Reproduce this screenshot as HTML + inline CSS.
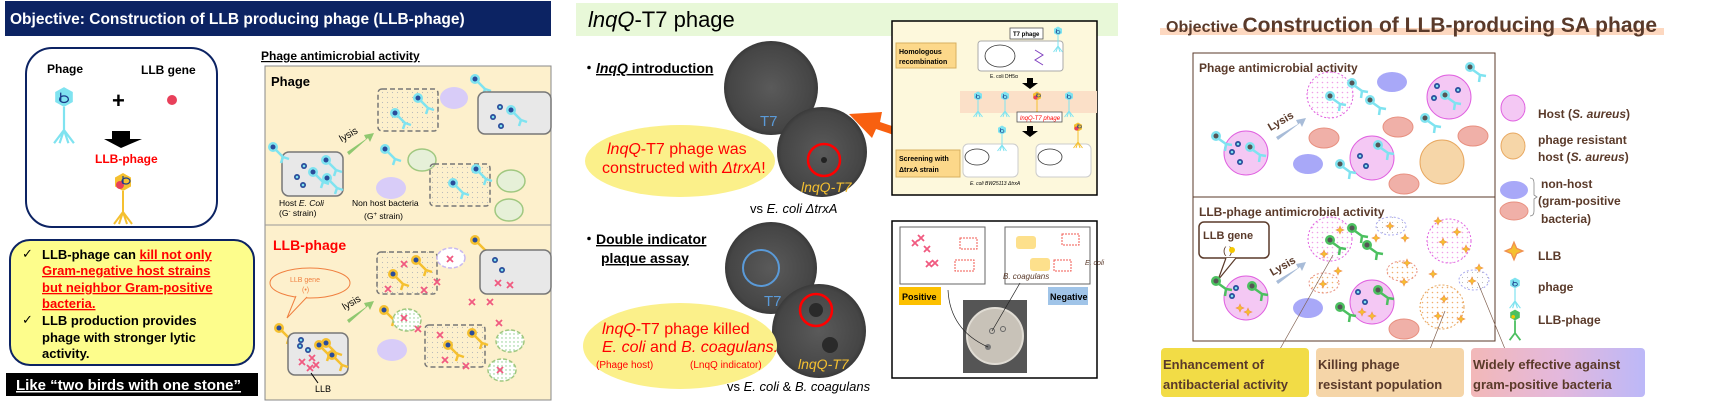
<!DOCTYPE html>
<html><head><meta charset="utf-8"><style>
body{margin:0;width:1734px;height:404px;overflow:hidden;background:#fff}
svg text{font-family:"Liberation Sans","DejaVu Sans",sans-serif}
</style></head><body>
<svg width="1734" height="404" viewBox="0 0 1734 404" xmlns="http://www.w3.org/2000/svg">
<defs>
<g id="phC"><polygon points="0,-9 8,-4.5 8,4.5 0,9 -8,4.5 -8,-4.5" fill="#7fe3f0"/><path d="M0,9 V30 M0,30 L-9,42 M0,30 L9,42 M0,30 L-4,42 M0,30 L4,42" stroke="#7fe3f0" stroke-width="2" fill="none"/><path d="M-4,2 a4,3 0 1 0 8,0 a4,3 0 1 0 -8,0 M-3,-4 v8" stroke="#1a3c8a" stroke-width="1.2" fill="none"/></g>
<g id="phY"><polygon points="0,-9 8,-4.5 8,4.5 0,9 -8,4.5 -8,-4.5" fill="#f5c030"/><circle cx="-3" cy="3" r="4" fill="#e8405a"/><path d="M0,9 V30 M0,30 L-9,42 M0,30 L9,42 M0,30 L-4,42 M0,30 L4,42" stroke="#f5c030" stroke-width="2" fill="none"/><path d="M-1,-1 a4,3 0 1 0 8,0 a4,3 0 1 0 -8,0 M0,-6 v8" stroke="#1a3c8a" stroke-width="1.2" fill="none"/></g>
<g id="sm"><circle r="3" fill="#2a4c9a"/><circle r="1.3" fill="#7fe3f0"/></g>
<g id="mc"><circle r="5" fill="#7fe3f0"/><circle r="2.5" fill="#2a4c9a"/><path d="M3,3 L10,10 M10,10 L8,16 M10,10 L16,12" stroke="#7fe3f0" stroke-width="2.5" fill="none"/></g>
<g id="my"><circle r="5" fill="#f5c030"/><circle r="2.5" fill="#2a4c9a"/><path d="M3,3 L10,10 M10,10 L8,16 M10,10 L16,12" stroke="#f5c030" stroke-width="2.5" fill="none"/></g>
<g id="x"><path d="M-3,-3 L3,3 M3,-3 L-3,3" stroke="#f05a80" stroke-width="1.8"/></g>
<g id="sc"><circle r="5" fill="#7fe3f0"/><circle r="2.5" fill="#555"/><path d="M3,3 L10,8 M10,8 L9,15 M10,8 L16,9" stroke="#7fe3f0" stroke-width="2.5" fill="none"/></g>
<g id="sg"><circle r="5" fill="#4cc060"/><circle r="2.5" fill="#555"/><path d="M3,3 L10,8 M10,8 L9,15 M10,8 L16,9" stroke="#4cc060" stroke-width="2.5" fill="none"/></g>
<g id="st"><path d="M0,-4 L1.2,-1.2 L4,0 L1.2,1.2 L0,4 L-1.2,1.2 L-4,0 L-1.2,-1.2Z" fill="#f5c030" stroke="#f09050" stroke-width=".6"/></g>
<pattern id="dots" width="5" height="5" patternUnits="userSpaceOnUse"><circle cx="2.5" cy="2.5" r=".6" fill="#bbb"/></pattern>
<pattern id="pd" width="5" height="5" patternUnits="userSpaceOnUse"><rect width="5" height="5" fill="#fff"/><circle cx="2.5" cy="2.5" r=".8" fill="#f0a0e8"/></pattern>
<pattern id="od" width="5" height="5" patternUnits="userSpaceOnUse"><rect width="5" height="5" fill="#fff"/><circle cx="2.5" cy="2.5" r=".8" fill="#f0b070"/></pattern>
<pattern id="gd" width="4" height="4" patternUnits="userSpaceOnUse"><rect width="4" height="4" fill="#fff"/><circle cx="2" cy="2" r=".7" fill="#8c8"/></pattern>
<linearGradient id="grd" x1="0" x2="1"><stop offset="0" stop-color="#f2b8b8"/><stop offset="0.5" stop-color="#e4b8dc"/><stop offset="1" stop-color="#bcb8f8"/></linearGradient>
<radialGradient id="dish"><stop offset="0" stop-color="#5a5a5a"/><stop offset="0.9" stop-color="#454545"/><stop offset="1" stop-color="#3a3a3a"/></radialGradient>
</defs>

<!-- ===== Panel 1 ===== -->
<rect x="5" y="1" width="546" height="35" fill="#0c2363"/>
<text x="10" y="24" font-size="15.5" font-weight="bold" fill="#fff">Objective: Construction of LLB producing phage (LLB-phage)</text>
<rect x="26" y="48" width="191" height="179" rx="26" fill="#fff" stroke="#0c2363" stroke-width="2"/>
<text x="47" y="73" font-size="12" font-weight="bold">Phage</text>
<text x="141" y="74" font-size="12" font-weight="bold">LLB gene</text>
<g transform="translate(64,97) scale(1.1)"><use href="#phC"/></g>
<text x="112" y="108" font-size="22" font-weight="bold">+</text>
<circle cx="172" cy="100" r="5" fill="#e8405a"/>
<polygon points="112,131 130,131 130,139 142,139 121,148 104,139 112,139" fill="#000"/>
<text x="95" y="163" font-size="12" font-weight="bold" fill="#f00">LLB-phage</text>
<g transform="translate(123,182)"><use href="#phY"/></g>
<rect x="10" y="240" width="244" height="125" rx="20" fill="#fdfd8c" stroke="#0c2363" stroke-width="2"/>
<g font-size="13" font-weight="bold">
<text x="22" y="258">✓</text><text x="42" y="259">LLB-phage can <tspan fill="#f00" text-decoration="underline">kill not only</tspan></text>
<text x="42" y="275" fill="#f00" text-decoration="underline">Gram-negative host strains</text>
<text x="42" y="292" fill="#f00" text-decoration="underline">but neighbor Gram-positive</text>
<text x="42" y="308" fill="#f00" text-decoration="underline">bacteria.</text>
<text x="22" y="324">✓</text><text x="42" y="325">LLB production provides</text>
<text x="42" y="342">phage with stronger lytic</text>
<text x="42" y="358">activity.</text>
</g>
<rect x="6" y="373" width="252" height="23" fill="#000"/>
<text x="16" y="390" font-size="15" font-weight="bold" fill="#fff" text-decoration="underline">Like “two birds with one stone”</text>

<text x="261" y="60" font-size="12" font-weight="bold" text-decoration="underline">Phage antimicrobial activity</text>
<rect x="265" y="66" width="286" height="334" fill="#fdf0cc" stroke="#888" stroke-width="1"/>
<line x1="265" y1="225" x2="551" y2="225" stroke="#999"/>
<text x="271" y="86" font-size="13" font-weight="bold">Phage</text>
<text x="273" y="250" font-size="14" font-weight="bold" fill="#f00">LLB-phage</text>
<rect x="282" y="152" width="61" height="44" rx="7" fill="#e8e8e8" stroke="#777" stroke-width="1.5"/>
<use href="#sm" x="297" y="177"/><use href="#sm" x="304" y="166"/><use href="#sm" x="303" y="185"/><use href="#mc" x="313" y="172"/><use href="#mc" x="327" y="178"/><use href="#mc" x="326" y="160"/>
<use href="#mc" x="273" y="147"/>
<text x="279" y="206" font-size="8.5">Host <tspan font-style="italic">E. Coli</tspan></text><text x="279" y="216" font-size="8.5">(G<tspan font-size="6" dy="-3">-</tspan><tspan dy="3"> strain)</tspan></text>
<polygon points="347,152 366,139 364,135 374,133 370,142 368,138 349,155" fill="#90c870"/>
<text x="340" y="140" font-size="10" transform="rotate(-30 345 138)">lysis</text>
<rect x="378" y="89" width="60" height="42" rx="4" fill="url(#dots)" stroke="#777" stroke-width="1.5" stroke-dasharray="5,3"/>
<use href="#mc" x="395" y="113"/><use href="#mc" x="418" y="98"/>
<ellipse cx="454" cy="98" rx="14" ry="11" fill="#d8ccf8"/>
<use href="#mc" x="475" y="79"/>
<rect x="478" y="92" width="73" height="42" rx="7" fill="#e8e8e8" stroke="#777" stroke-width="1.5"/>
<use href="#sm" x="493" y="117"/><use href="#sm" x="500" y="107"/><use href="#sm" x="501" y="126"/><use href="#mc" x="511" y="110"/>
<use href="#mc" x="385" y="149"/>
<ellipse cx="422" cy="160" rx="14" ry="11" fill="#e6f0d8" stroke="#a0c880" stroke-width="1.5"/>
<ellipse cx="391" cy="188" rx="15" ry="11" fill="#d8ccf8"/>
<text x="352" y="206" font-size="8.5">Non host bacteria</text><text x="364" y="219" font-size="8.5">(G<tspan font-size="6" dy="-3">+</tspan><tspan dy="3"> strain)</tspan></text>
<rect x="430" y="164" width="60" height="42" rx="4" fill="url(#dots)" stroke="#777" stroke-width="1.5" stroke-dasharray="5,3"/>
<use href="#mc" x="453" y="183"/><use href="#mc" x="476" y="169"/>
<ellipse cx="511" cy="181" rx="14" ry="11" fill="#e6f0d8" stroke="#a0c880" stroke-width="1.5"/>
<ellipse cx="509" cy="210" rx="14" ry="11" fill="#e6f0d8" stroke="#a0c880" stroke-width="1.5"/>
<ellipse cx="310" cy="283" rx="40" ry="15" fill="#fdf0cc" stroke="#f08040"/>
<path d="M296,296 L287,318 L307,297" fill="#fdf0cc" stroke="#f08040"/>
<text x="290" y="282" font-size="7" fill="#f08040">LLB gene</text><text x="302" y="292" font-size="7" fill="#f08040">(•)</text>
<use href="#my" x="279" y="328"/>
<rect x="288" y="333" width="60" height="42" rx="7" fill="#e8e8e8" stroke="#777" stroke-width="1.5"/>
<use href="#sm" x="301" y="340"/><use href="#sm" x="308" y="350"/><use href="#sm" x="300" y="346"/><use href="#my" x="326" y="343"/><use href="#my" x="319" y="345"/><use href="#my" x="332" y="355"/>
<use href="#x" x="302" y="362"/><use href="#x" x="312" y="358"/><use href="#x" x="310" y="368"/><use href="#x" x="316" y="365"/>
<path d="M311,373 L318,383" stroke="#000"/><text x="315" y="392" font-size="9">LLB</text>
<polygon points="347,320 366,307 364,303 374,301 370,310 368,306 349,323" fill="#90c870"/>
<text x="343" y="308" font-size="10" transform="rotate(-30 348 306)">lysis</text>
<rect x="377" y="252" width="60" height="42" rx="4" fill="url(#dots)" stroke="#777" stroke-width="1.5" stroke-dasharray="5,3"/>
<use href="#my" x="393" y="274"/><use href="#my" x="416" y="260"/><use href="#x" x="404" y="264"/><use href="#x" x="388" y="289"/><use href="#x" x="424" y="290"/>
<ellipse cx="451" cy="258" rx="14" ry="10" fill="#fff" stroke="#c8b8f0" stroke-width="1.5" stroke-dasharray="4,2"/><use href="#x" x="450" y="259"/>
<use href="#my" x="475" y="240"/>
<rect x="480" y="250" width="71" height="44" rx="7" fill="#e8e8e8" stroke="#777" stroke-width="1.5"/>
<use href="#sm" x="495" y="260"/><use href="#sm" x="502" y="270"/><use href="#x" x="498" y="283"/><use href="#x" x="510" y="285"/>
<use href="#x" x="437" y="282"/><use href="#x" x="472" y="302"/><use href="#x" x="490" y="302"/>
<use href="#my" x="384" y="310"/>
<ellipse cx="407" cy="320" rx="14" ry="11" fill="url(#gd)" stroke="#a0c880" stroke-width="1.5" stroke-dasharray="4,2"/><use href="#x" x="404" y="318"/><use href="#x" x="418" y="329"/>
<ellipse cx="392" cy="350" rx="15" ry="11" fill="#d8ccf8"/>
<rect x="425" y="325" width="60" height="42" rx="4" fill="url(#dots)" stroke="#777" stroke-width="1.5" stroke-dasharray="5,3"/>
<use href="#my" x="448" y="345"/><use href="#my" x="472" y="333"/><use href="#x" x="440" y="335"/><use href="#x" x="445" y="360"/><use href="#x" x="466" y="366"/>
<use href="#x" x="499" y="323"/><use href="#x" x="510" y="333"/>
<ellipse cx="510" cy="341" rx="14" ry="11" fill="url(#gd)" stroke="#a0c880" stroke-width="1.5" stroke-dasharray="4,2"/>
<ellipse cx="502" cy="370" rx="14" ry="11" fill="url(#gd)" stroke="#a0c880" stroke-width="1.5" stroke-dasharray="4,2"/><use href="#x" x="500" y="370"/>

<!-- ===== Panel 2 ===== -->
<rect x="576" y="3" width="542" height="33" fill="#e8f8d8"/>
<text x="588" y="27" font-size="22" fill="#000"><tspan font-style="italic">lnqQ</tspan>-T7 phage</text>
<text x="582" y="73" font-size="14" font-weight="bold">・<tspan font-style="italic" text-decoration="underline">lnqQ</tspan><tspan text-decoration="underline"> introduction</tspan></text>
<circle cx="771" cy="88" r="47" fill="url(#dish)"/>
<text x="760" y="126" font-size="15" fill="#5a9ad8">T7</text>
<circle cx="822" cy="152" r="45" fill="url(#dish)"/>
<ellipse cx="680" cy="161" rx="95" ry="36" fill="#fbf08a"/>
<text x="607" y="154" font-size="16" fill="#f00"><tspan font-style="italic">lnqQ</tspan>-T7 phage was</text>
<text x="602" y="173" font-size="16" fill="#f00">constructed with <tspan font-style="italic">ΔtrxA</tspan>!</text>
<circle cx="824" cy="160" r="16" fill="none" stroke="#f00" stroke-width="2.5"/>
<circle cx="824" cy="160" r="3" fill="#222"/>
<text x="801" y="192" font-size="14" font-style="italic" fill="#f5c030">lnqQ-T7</text>
<text x="750" y="213" font-size="13">vs <tspan font-style="italic">E. coli ΔtrxA</tspan></text>
<polygon points="934,140 880,122 882,112 849,114 872,138 876,129 930,147" fill="#f86010"/>
<rect x="892" y="21" width="205" height="174" fill="#fdf8dc" stroke="#000" stroke-width="1.5"/>
<rect x="896" y="43" width="60" height="25" fill="#fcd88a" stroke="#d8b060"/>
<text x="899" y="54" font-size="7" font-weight="bold">Homologous</text><text x="899" y="64" font-size="7" font-weight="bold">recombination</text>
<rect x="978" y="41" width="85" height="30" rx="3" fill="#fff" stroke="#aaa"/>
<ellipse cx="1000" cy="56" rx="15" ry="11" fill="none" stroke="#333" stroke-width=".8"/>
<path d="M1035,50 l8,5 l-8,5 l8,5" stroke="#8040c0" fill="none"/>
<rect x="1010" y="28" width="33" height="11" fill="#fff" stroke="#555" stroke-width=".8"/><text x="1013" y="36" font-size="6" font-weight="bold">T7 phage</text>
<g transform="translate(1058,31) scale(.5)"><use href="#phC"/></g>
<text x="990" y="78" font-size="5">E. coli DH5α</text>
<polygon points="1027,78 1033,78 1033,83 1038,83 1030,89 1022,83 1027,83" fill="#000"/>
<rect x="960" y="91" width="137" height="22" fill="#fbe0c8"/>
<g transform="translate(978,96) scale(.5)"><use href="#phC"/></g><g transform="translate(1005,96) scale(.5)"><use href="#phC"/></g><g transform="translate(1037,96) scale(.5)"><use href="#phY"/></g><g transform="translate(1069,96) scale(.5)"><use href="#phC"/></g>
<rect x="1017" y="112" width="45" height="10" fill="#fff" stroke="#555" stroke-width=".8"/><text x="1020" y="120" font-size="6" fill="#f00" font-style="italic">lnqQ-T7 phage</text>
<polygon points="1027,126 1033,126 1033,131 1038,131 1030,137 1022,131 1027,131" fill="#000"/>
<rect x="896" y="150" width="64" height="27" fill="#fcd88a" stroke="#d8b060"/>
<text x="899" y="161" font-size="7" font-weight="bold">Screening with</text><text x="899" y="172" font-size="7" font-weight="bold">ΔtrxA strain</text>
<rect x="963" y="144" width="55" height="33" rx="5" fill="#fff" stroke="#ccc"/>
<rect x="1036" y="144" width="55" height="33" rx="5" fill="#fff" stroke="#ccc"/>
<ellipse cx="977" cy="157" rx="12" ry="8" fill="none" stroke="#333" stroke-width=".8"/><ellipse cx="1050" cy="157" rx="12" ry="8" fill="none" stroke="#333" stroke-width=".8"/>
<g transform="translate(1002,130) scale(.5)"><use href="#phC"/></g><g transform="translate(1078,127) scale(.5)"><use href="#phY"/></g>
<text x="970" y="185" font-size="5" font-style="italic">E. coli BW25113 ΔtrxA</text>
<rect x="892" y="221" width="205" height="157" fill="#fff" stroke="#000" stroke-width="1.5"/>
<rect x="900" y="227" width="85" height="57" fill="#fff" stroke="#666"/>
<rect x="1005" y="227" width="85" height="57" fill="#fff" stroke="#666"/>
<use href="#x" x="915" y="243"/><use href="#x" x="921" y="238"/><use href="#x" x="927" y="249"/><use href="#x" x="929" y="264"/><use href="#x" x="935" y="263"/>
<rect x="960" y="238" width="17" height="11" fill="none" stroke="#f05a50" stroke-dasharray="2,1"/><rect x="955" y="260" width="19" height="11" fill="none" stroke="#f05a50" stroke-dasharray="2,1"/>
<rect x="1016" y="236" width="20" height="13" rx="3" fill="#fde08c"/><rect x="1030" y="258" width="20" height="13" rx="3" fill="#fde08c"/>
<rect x="1062" y="234" width="17" height="11" fill="none" stroke="#f05a50" stroke-dasharray="2,1"/><rect x="1054" y="260" width="17" height="11" fill="none" stroke="#f05a50" stroke-dasharray="2,1"/>
<text x="1003" y="279" font-size="8" font-style="italic" fill="#5a3a2a">B. coagulans</text>
<text x="1085" y="265" font-size="7" font-style="italic" fill="#5a3a2a">E. coli</text>
<rect x="899" y="287" width="42" height="18" fill="#fcc000"/><text x="902" y="300" font-size="9" font-weight="bold">Positive</text>
<rect x="1048" y="287" width="40" height="18" fill="#a0c4e8"/><text x="1050" y="300" font-size="9" font-weight="bold">Negative</text>
<rect x="963" y="300" width="64" height="73" fill="#555"/>
<circle cx="995" cy="336" r="28" fill="#c8c2b8" stroke="#e0dcd4" stroke-width="2"/>
<circle cx="992" cy="331" r="2.5" fill="none" stroke="#666"/><circle cx="1003" cy="329" r="2.5" fill="none" stroke="#666"/><circle cx="988" cy="347" r="3" fill="#777"/>
<path d="M988,347 Q950,330 948,290 M992,331 L1020,283" stroke="#222" stroke-width=".7" fill="none"/>
<text x="582" y="244" font-size="14" font-weight="bold">・<tspan text-decoration="underline">Double indicator</tspan></text>
<text x="601" y="263" font-size="14" font-weight="bold" text-decoration="underline">plaque assay</text>
<circle cx="771" cy="268" r="46" fill="url(#dish)"/>
<circle cx="761" cy="268" r="18" fill="none" stroke="#5a9ad8" stroke-width="2"/>
<text x="764" y="306" font-size="15" fill="#5a9ad8">T7</text>
<circle cx="819" cy="331" r="47" fill="url(#dish)"/>
<circle cx="816" cy="310" r="16" fill="none" stroke="#f00" stroke-width="2.5"/><circle cx="816" cy="310" r="7" fill="#2a2a2a"/>
<circle cx="830" cy="345" r="8" fill="#2a2a2a"/>
<ellipse cx="680" cy="346" rx="97" ry="43" fill="#fbf08a"/>
<text x="602" y="334" font-size="16" fill="#f00"><tspan font-style="italic">lnqQ</tspan>-T7 phage killed</text>
<text x="602" y="352" font-size="16" fill="#f00"><tspan font-style="italic">E. coli</tspan> and <tspan font-style="italic">B. coagulans.</tspan></text>
<text x="596" y="368" font-size="10" fill="#f00">(Phage host)</text><text x="690" y="368" font-size="10" fill="#f00">(LnqQ indicator)</text>
<text x="798" y="369" font-size="14" font-style="italic" fill="#f5c030">lnqQ-T7</text>
<text x="727" y="391" font-size="13">vs <tspan font-style="italic">E. coli</tspan> &amp; <tspan font-style="italic">B. coagulans</tspan></text>

<!-- ===== Panel 3 ===== -->
<rect x="1160" y="28" width="504" height="7" fill="#fdd8c0"/>
<text x="1166" y="32" font-weight="bold" fill="#5a3a2a"><tspan font-size="16">Objective </tspan><tspan font-size="21">Construction of LLB-producing SA phage</tspan></text>
<rect x="1193" y="53" width="302" height="144" fill="#fff" stroke="#5a3a2a" stroke-width="1"/>
<rect x="1193" y="197" width="302" height="144" fill="#fff" stroke="#5a3a2a" stroke-width="1"/>
<text x="1199" y="72" font-size="12" font-weight="bold" fill="#5a3a2a">Phage antimicrobial activity</text>
<text x="1199" y="216" font-size="12" font-weight="bold" fill="#5a3a2a">LLB-phage antimicrobial activity</text>
<circle cx="1246" cy="153" r="22" fill="#f4c8f4" stroke="#e060e0"/>
<use href="#sc" x="1216" y="136"/><use href="#sm" x="1238" y="144"/><use href="#sm" x="1232" y="152"/><use href="#sm" x="1240" y="162"/><use href="#sc" x="1250" y="147"/>
<polygon points="1276,137 1298,124 1296,120 1306,118 1302,127 1300,123 1278,140" fill="#a8bcd8"/>
<text x="1268" y="128" font-size="11" font-weight="bold" fill="#5a3a2a" transform="rotate(-30 1275 125)">Lysis</text>
<circle cx="1330" cy="95" r="23" fill="url(#pd)" stroke="#e060e0" stroke-dasharray="2,2"/>
<use href="#sc" x="1330" y="96"/><use href="#sc" x="1352" y="83"/>
<ellipse cx="1392" cy="82" rx="15" ry="10" fill="#a8a8f8"/>
<use href="#sc" x="1370" y="100"/>
<circle cx="1449" cy="97" r="22" fill="#f4c8f4" stroke="#e060e0"/>
<use href="#sm" x="1437" y="86"/><use href="#sm" x="1434" y="98"/><use href="#sm" x="1458" y="90"/><use href="#sc" x="1445" y="95"/><use href="#sc" x="1470" y="67"/>
<ellipse cx="1324" cy="138" rx="15" ry="10" fill="#f0b0a8" stroke="#e89080"/>
<ellipse cx="1398" cy="127" rx="15" ry="10" fill="#f0b0a8" stroke="#e89080"/>
<use href="#sc" x="1425" y="118"/>
<ellipse cx="1473" cy="136" rx="15" ry="10" fill="#f0b0a8" stroke="#e89080"/>
<ellipse cx="1308" cy="164" rx="15" ry="10" fill="#a8a8f8"/>
<circle cx="1372" cy="158" r="22" fill="#f4c8f4" stroke="#e060e0"/>
<use href="#sc" x="1340" y="164"/><use href="#sm" x="1360" y="156"/><use href="#sm" x="1366" y="166"/><use href="#sc" x="1378" y="145"/>
<circle cx="1442" cy="162" r="22" fill="#f6d6a8" stroke="#e8a860"/>
<ellipse cx="1404" cy="184" rx="15" ry="10" fill="#f0b0a8" stroke="#e89080"/>
<rect x="1199" y="222" width="70" height="36" rx="5" fill="#fff" stroke="#5a3a2a" stroke-width="1.5"/>
<path d="M1226,258 L1218,280 L1236,258" fill="#fff" stroke="#5a3a2a" stroke-width="1.2"/>
<text x="1203" y="239" font-size="11" font-weight="bold" fill="#5a3a2a">LLB gene</text>
<text x="1223" y="254" font-size="10" fill="#5a3a2a">( )</text><circle cx="1232" cy="250" r="3" fill="#f5c800"/>
<circle cx="1246" cy="298" r="22" fill="#f4c8f4" stroke="#e060e0"/>
<use href="#sg" x="1216" y="281"/><use href="#sm" x="1236" y="288"/><use href="#sm" x="1232" y="296"/><use href="#sg" x="1252" y="286"/><use href="#st" x="1240" y="308"/><use href="#st" x="1248" y="312"/>
<polygon points="1276,281 1298,268 1296,264 1306,262 1302,271 1300,267 1278,284" fill="#a8bcd8"/>
<text x="1270" y="273" font-size="11" font-weight="bold" fill="#5a3a2a" transform="rotate(-30 1277 270)">Lysis</text>
<circle cx="1330" cy="239" r="22" fill="url(#pd)" stroke="#e060e0" stroke-dasharray="2,2"/>
<use href="#sg" x="1330" y="240"/><use href="#sg" x="1352" y="228"/><use href="#st" x="1340" y="230"/><use href="#st" x="1324" y="254"/>
<ellipse cx="1391" cy="226" rx="15" ry="9" fill="url(#dots)" stroke="#a8a8f0" stroke-dasharray="2,2"/><use href="#st" x="1390" y="226"/>
<use href="#st" x="1376" y="238"/><use href="#st" x="1405" y="238"/>
<use href="#sg" x="1367" y="245"/>
<circle cx="1449" cy="241" r="22" fill="url(#pd)" stroke="#e060e0" stroke-dasharray="2,2"/>
<use href="#st" x="1438" y="221"/><use href="#st" x="1457" y="232"/><use href="#st" x="1443" y="242"/><use href="#st" x="1466" y="249"/>
<ellipse cx="1402" cy="271" rx="15" ry="10" fill="url(#od)" stroke="#e89080" stroke-dasharray="2,2"/><use href="#st" x="1407" y="263"/><use href="#st" x="1404" y="282"/>
<ellipse cx="1324" cy="283" rx="15" ry="10" fill="url(#od)" stroke="#e89080" stroke-dasharray="2,2"/><use href="#st" x="1338" y="271"/><use href="#st" x="1323" y="284"/>
<use href="#st" x="1433" y="274"/>
<ellipse cx="1474" cy="280" rx="15" ry="10" fill="url(#dots)" stroke="#a8a8f0" stroke-dasharray="2,2"/><use href="#st" x="1479" y="268"/><use href="#st" x="1472" y="281"/>
<ellipse cx="1308" cy="308" rx="15" ry="10" fill="#a8a8f8"/>
<circle cx="1372" cy="302" r="22" fill="#f4c8f4" stroke="#e060e0"/>
<use href="#sg" x="1340" y="307"/><use href="#sm" x="1358" y="292"/><use href="#sm" x="1365" y="302"/><use href="#sg" x="1378" y="290"/><use href="#st" x="1362" y="312"/><use href="#st" x="1372" y="316"/>
<circle cx="1442" cy="307" r="22" fill="url(#od)" stroke="#e8a860" stroke-dasharray="2,2"/><use href="#st" x="1444" y="299"/><use href="#st" x="1438" y="316"/><use href="#st" x="1461" y="319"/>
<ellipse cx="1404" cy="329" rx="15" ry="10" fill="#f0b0a8" stroke="#e89080"/>
<path d="M1333,255 L1280,349 M1445,311 L1430,349 M1478,283 L1505,349" stroke="#806050" stroke-width=".7"/>
<ellipse cx="1513" cy="108" rx="12" ry="13" fill="#f4c8f4" stroke="#e060e0"/>
<text x="1538" y="118" font-size="12" font-weight="bold" fill="#5a3a2a">Host (<tspan font-style="italic">S. aureus</tspan>)</text>
<ellipse cx="1513" cy="146" rx="12" ry="13" fill="#f6d6a8" stroke="#e8a860"/>
<text x="1538" y="144" font-size="12" font-weight="bold" fill="#5a3a2a">phage resistant</text>
<text x="1538" y="161" font-size="12" font-weight="bold" fill="#5a3a2a">host (<tspan font-style="italic">S. aureus</tspan>)</text>
<ellipse cx="1514" cy="190" rx="14" ry="9" fill="#a8a8f8"/>
<ellipse cx="1514" cy="211" rx="14" ry="9" fill="#f0b0a8" stroke="#e89080"/>
<path d="M1530,178 q4,0 4,5 v12 l3,2 l-3,2 v12 q0,5 -4,5" stroke="#888" fill="none" stroke-width=".8"/>
<text x="1541" y="188" font-size="12" font-weight="bold" fill="#5a3a2a">non-host</text>
<text x="1538" y="205" font-size="12" font-weight="bold" fill="#5a3a2a">(gram-positive</text>
<text x="1541" y="223" font-size="12" font-weight="bold" fill="#5a3a2a">bacteria)</text>
<g transform="translate(1514,251) scale(2.2)"><use href="#st"/></g>
<text x="1538" y="260" font-size="12" font-weight="bold" fill="#5a3a2a">LLB</text>
<g transform="translate(1515,283) scale(.6)"><use href="#phC"/></g>
<text x="1538" y="291" font-size="12" font-weight="bold" fill="#5a3a2a">phage</text>
<g transform="translate(1515,315) scale(.6)"><polygon points="0,-9 8,-4.5 8,4.5 0,9 -8,4.5 -8,-4.5" fill="#4cc060"/><circle cx="-3" cy="3" r="3" fill="#f5c800"/><path d="M0,9 V30 M0,30 L-9,42 M0,30 L9,42" stroke="#4cc060" stroke-width="3" fill="none"/></g>
<text x="1538" y="324" font-size="12" font-weight="bold" fill="#5a3a2a">LLB-phage</text>
<rect x="1161" y="348" width="148" height="49" rx="4" fill="#f2dc46"/>
<text x="1163" y="369" font-size="13" font-weight="bold" fill="#5a3a2a">Enhancement of</text>
<text x="1163" y="389" font-size="13" font-weight="bold" fill="#5a3a2a">antibacterial activity</text>
<rect x="1316" y="348" width="148" height="49" rx="4" fill="#f5d5a8"/>
<text x="1318" y="369" font-size="13" font-weight="bold" fill="#5a3a2a">Killing phage</text>
<text x="1318" y="389" font-size="13" font-weight="bold" fill="#5a3a2a">resistant population</text>
<rect x="1471" y="348" width="174" height="49" rx="4" fill="url(#grd)"/>
<text x="1473" y="369" font-size="13" font-weight="bold" fill="#5a3a2a">Widely effective against</text>
<text x="1473" y="389" font-size="13" font-weight="bold" fill="#5a3a2a">gram-positive bacteria</text>
</svg>
</body></html>
